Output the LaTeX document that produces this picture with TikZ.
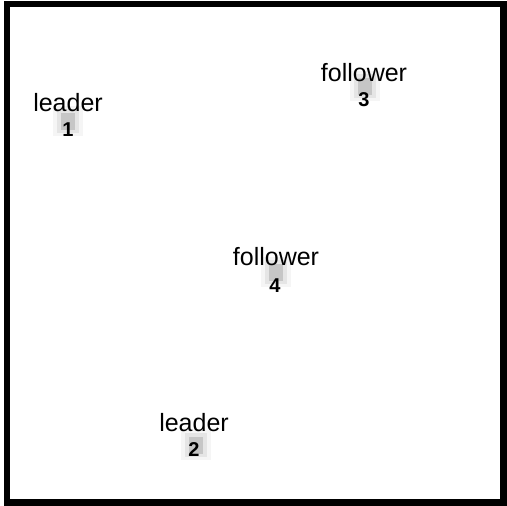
\documentclass[tikz,border=0pt]{standalone}
\usepackage{fontspec}
\setmainfont{Liberation Sans}
\begin{document}
\begin{tikzpicture}[x=1pt,y=-1pt,
  role/.style={inner sep=0pt,font=\fontsize{25}{30}\selectfont},
  num/.style={inner sep=0pt,font=\bfseries\fontsize{20}{24}\selectfont},
  halo/.style={fill=gray!8,draw=none},
  core/.style={fill=gray!45,draw=none},
  frame/.style={draw=black,line width=6.5pt}]
\useasboundingbox (0,0) rectangle (507,506);
\fill[white] (0,0) rectangle (507,506);
\draw[frame] (7,4) rectangle (503.5,502.5);
% markers
\foreach \x/\y/\n in {68/121/m1,365/86/m3,276/272/m4,196/445/m2}{
  \fill[halo] (\x-15,\y-15) rectangle (\x+15,\y+15);
  \fill[gray!20] (\x-11,\y-12) rectangle (\x+11,\y+12);
  \node[core,minimum width=14pt,minimum height=17pt,inner sep=0pt] (\n) at (\x,\y) {};
}
% labels
\node[role] (l1) at (68,103) {leader};
\node[num] (n1) at (68,130) {1};
\node[role] (l3) at (364,73) {follower};
\node[num] (n3) at (364,100) {3};
\node[role] (l4) at (276,257) {follower};
\node[num] (n4) at (275,286) {4};
\node[role] (l2) at (194,423) {leader};
\node[num] (n2) at (194,450) {2};
\end{tikzpicture}
\end{document}
